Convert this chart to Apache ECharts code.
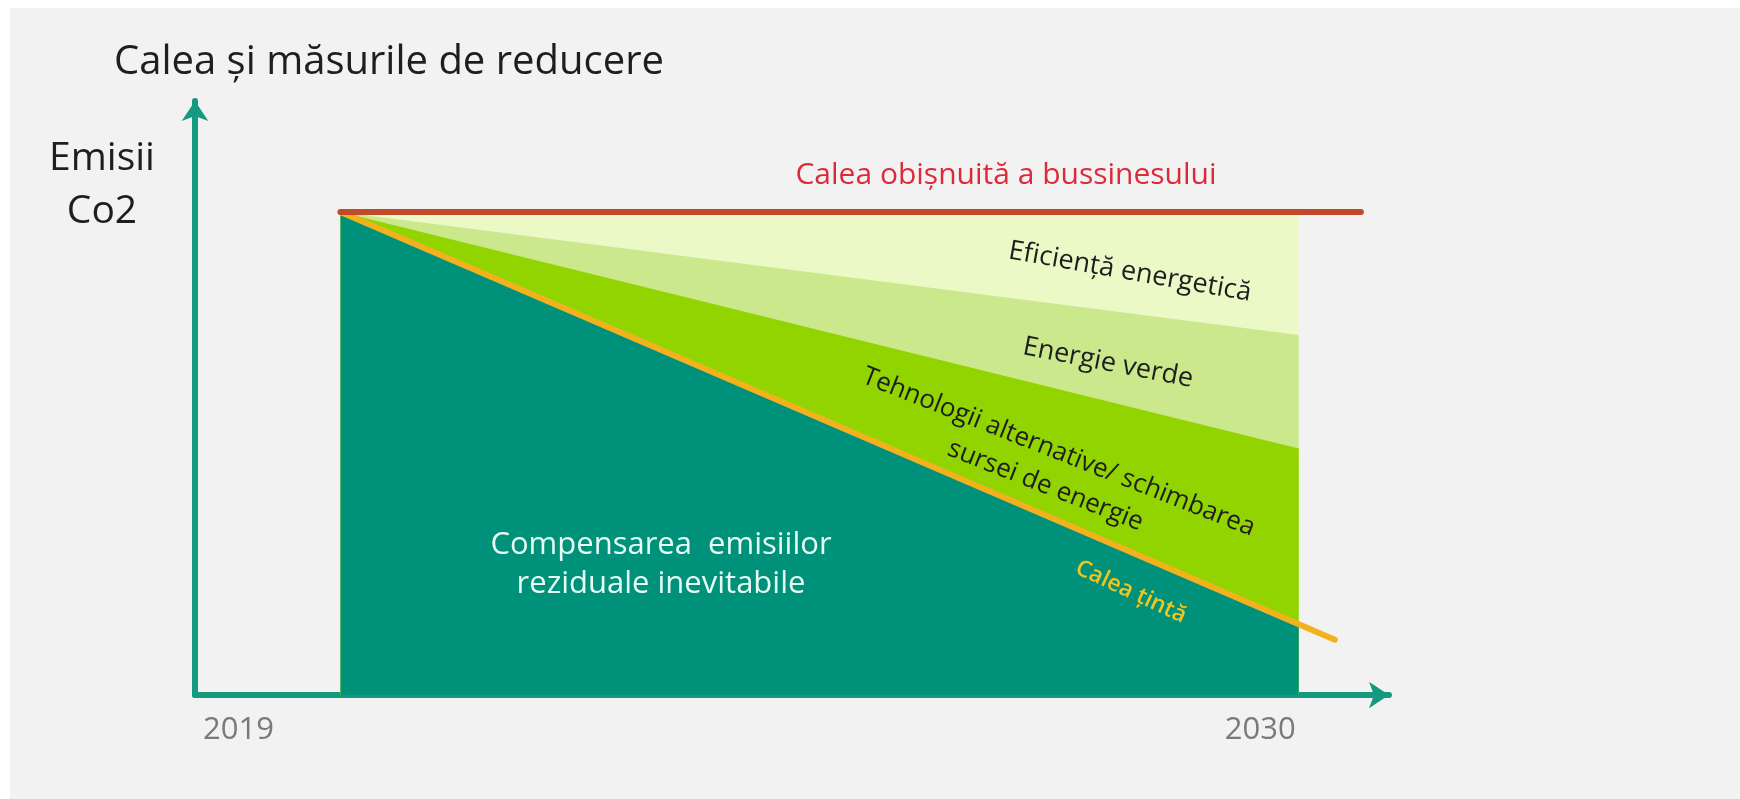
<!DOCTYPE html>
<html>
<head>
<meta charset="utf-8">
<title>Calea și măsurile de reducere</title>
<script src="https://cdn.jsdelivr.net/npm/echarts@6/dist/echarts.min.js"></script>
<style>
  html, body { margin: 0; padding: 0; background: #ffffff; }
  #chartContainer { width: 1740px; height: 799px; }
</style>
</head>
<body>
<div id="chartContainer"></div>
<script>
// ani pe axa x (inceputul si sfarsitul zonelor)
var years = [2020.45, 2030];
// limita de sus a fiecarei zone (fiecare zona se umple pana la 0)
var eficientaTop = [81.3, 81.3];
var energieVerdeTop = [81.3, 60.6];
var tehnologiiTop = [81.3, 41.5];
var compensareTop = [81.3, 12];
// calea obisnuita a businessului (linia rosie)
var businessYears = [2020.45, 2030.62];
var businessValues = [81.3, 81.3];
// calea tinta (linia galbena)
var targetYears = [2020.45, 2030.36];
var targetValues = [81.3, 9.3];
// etichetele axei x
var yearTicks = [2019, 2030];
var yearLabels = ['2019', '2030'];

function pairs(xs, ys) {
    return xs.map(function (x, i) { return [x, ys[i]]; });
}

var font = '"Open Sans", sans-serif';

var chart = echarts.init(document.getElementById('chartContainer'));

// zonele se suprapun: cea de sus se deseneaza prima
function areaSeries(name, values, color) {
    return {
        name: name,
        type: 'line',
        data: pairs(years, values),
        symbol: 'none',
        lineStyle: {width: 0},
        areaStyle: {color: color, opacity: 1, origin: 'start'},
        silent: true,
        z: 2
    };
}

var option = {
    backgroundColor: '#ffffff',
    animation: false,
    grid: {left: 195, right: 351, top: 101, bottom: 104},
    xAxis: {
        type: 'value',
        min: 2019,
        max: 2030.9,
        axisLine: {
            show: true,
            symbol: ['none', 'arrow'],
            symbolSize: [20, 20],
            lineStyle: {color: '#159a80', width: 6}
        },
        axisTick: {show: false},
        splitLine: {show: false},
        axisLabel: {
            customValues: yearTicks,
            formatter: function (v) {
                var i = yearTicks.indexOf(v);
                return i >= 0 ? yearLabels[i] : '';
            },
            alignMinLabel: 'left',
            alignMaxLabel: 'right',
            padding: [0, 3, 0, 8],
            margin: 20,
            color: '#7a7a7a',
            fontSize: 31,
            fontFamily: font
        }
    },
    yAxis: {
        type: 'value',
        min: 0,
        max: 100,
        axisLine: {
            show: true,
            symbol: ['none', 'arrow'],
            symbolSize: [20, 20],
            lineStyle: {color: '#159a80', width: 6}
        },
        axisTick: {show: false},
        axisLabel: {show: false},
        splitLine: {show: false}
    },
    graphic: [
        {type: 'rect', shape: {x: 10, y: 8, width: 1730, height: 791}, style: {fill: '#f2f2f2'}, z: -10, silent: true},
        {type: 'text', x: 114, y: 63, z: 100, style: {text: 'Calea și măsurile de reducere', font: '40px ' + font, fill: '#1e1e1e', verticalAlign: 'middle'}},
        {type: 'text', x: 102, y: 185, z: 100, style: {text: 'Emisii\nCo2', font: '39px ' + font, fill: '#1e1e1e', align: 'center', verticalAlign: 'middle', lineHeight: 53}},
        {type: 'text', x: 1006, y: 175, z: 100, style: {text: 'Calea obișnuită a bussinesului', font: '30px ' + font, fill: '#dc2a3a', align: 'center', verticalAlign: 'middle'}},
        {type: 'text', x: 1130, y: 272, rotation: -10 * Math.PI / 180, z: 100, style: {text: 'Eficiență energetică', font: '27px ' + font, fill: '#1e1e1e', align: 'center', verticalAlign: 'middle'}},
        {type: 'text', x: 1108, y: 363, rotation: -11 * Math.PI / 180, z: 100, style: {text: 'Energie verde', font: '27px ' + font, fill: '#1e1e1e', align: 'center', verticalAlign: 'middle'}},
        {type: 'text', x: 1052, y: 469, rotation: -21.5 * Math.PI / 180, z: 100, style: {text: 'Tehnologii alternative/ schimbarea\nsursei de energie', font: '26px ' + font, fill: '#1e1e1e', align: 'center', verticalAlign: 'middle', lineHeight: 36}},
        {type: 'text', x: 1131, y: 592, rotation: -25 * Math.PI / 180, z: 100, style: {text: 'Calea țintă', font: '600 23px ' + font, fill: '#efc51e', align: 'center', verticalAlign: 'middle'}},
        {type: 'text', x: 661, y: 565, z: 100, style: {text: 'Compensarea  emisiilor\nreziduale inevitabile', font: '31px ' + font, fill: '#e6fbf4', align: 'center', verticalAlign: 'middle', lineHeight: 39}}
    ],
    series: [
        areaSeries('Eficiență energetică', eficientaTop, '#ebf9c6'),
        areaSeries('Energie verde', energieVerdeTop, '#cbe88c'),
        areaSeries('Tehnologii alternative/ schimbarea sursei de energie', tehnologiiTop, '#92d400'),
        areaSeries('Compensarea emisiilor reziduale inevitabile', compensareTop, '#00917a'),
        {
            name: 'Calea obișnuită a bussinesului',
            type: 'line',
            data: pairs(businessYears, businessValues),
            symbol: 'none',
            lineStyle: {color: '#c24a28', width: 6, cap: 'round'},
            silent: true,
            z: 5
        },
        {
            name: 'Calea țintă',
            type: 'line',
            data: pairs(targetYears, targetValues),
            symbol: 'none',
            lineStyle: {color: '#f2b21e', width: 6, cap: 'round'},
            silent: true,
            z: 4
        }
    ]
};
chart.setOption(option);
</script>
</body>
</html>
